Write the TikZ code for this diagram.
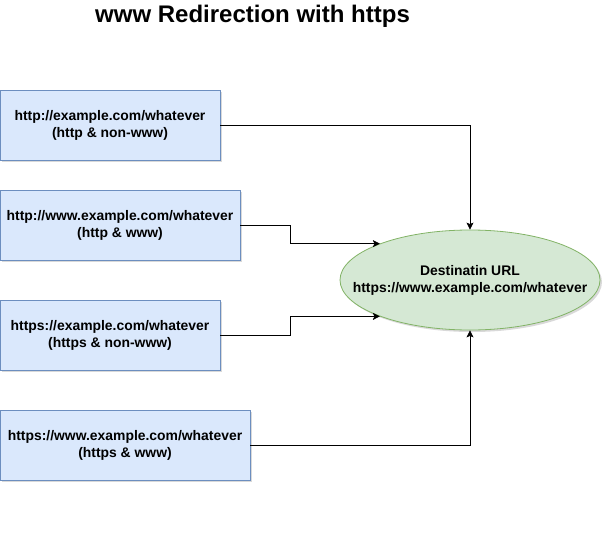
\documentclass[tikz,border=0pt]{standalone}
\usepackage{fontspec}
\setmainfont{Liberation Sans}
\usetikzlibrary{shapes.geometric,arrows.meta,shadows,calc}
\definecolor{boxfill}{HTML}{DAE8FC}
\definecolor{boxline}{HTML}{6C8EBF}
\definecolor{ellfill}{HTML}{D5E8D4}
\definecolor{ellline}{HTML}{82B366}
\tikzset{
  urlbox/.style={draw=boxline, fill=boxfill, line width=0.8pt, align=center,
    font=\fontsize{13.9}{17}\selectfont\bfseries, inner sep=0pt,
    minimum height=70pt,
    drop shadow={shadow xshift=2pt, shadow yshift=-2pt, fill=black!25, opacity=0.6}},
  dest/.style={ellipse, draw=ellline, fill=ellfill, line width=0.8pt, inner sep=0pt,
    minimum width=260pt, minimum height=100pt,
    drop shadow={shadow xshift=2pt, shadow yshift=-2pt, fill=black!25, opacity=0.6}},
  desttext/.style={align=center, font=\fontsize{13.9}{17}\selectfont\bfseries, inner sep=0pt},
  conn/.style={draw=black, line width=0.7pt, -{Stealth[length=7pt,width=7pt,inset=1.5pt]}},
}
\begin{document}
\begin{tikzpicture}[x=1pt,y=-1pt]
\useasboundingbox (0,0) rectangle (612,532);
\node[font=\fontsize{24}{28}\selectfont\bfseries] (title) at (252.5,16) {www Redirection with https};
\node[urlbox, minimum width=220pt] (b1) at (110,125) {http://example.com/whatever\\(http \& non-www)};
\node[urlbox, minimum width=240pt] (b2) at (120,225) {http://www.example.com/whatever\\(http \& www)};
\node[urlbox, minimum width=220pt] (b3) at (110,335) {https://example.com/whatever\\(https \& non-www)};
\node[urlbox, minimum width=250pt] (b4) at (125,445) {https://www.example.com/whatever\\(https \& www)};
\node[dest] (e) at (470,280) {};
\node[desttext] (et) at (e.center) {Destinatin URL\\https://www.example.com/whatever};
\draw[conn] (b1.east) -| (e.north);
\draw[conn] (b2.east) -- ++(50,0) |- (e.158);
\draw[conn] (b3.east) -- ++(70,0) |- (e.202);
\draw[conn] (b4.east) -| (e.south);
\end{tikzpicture}
\end{document}
